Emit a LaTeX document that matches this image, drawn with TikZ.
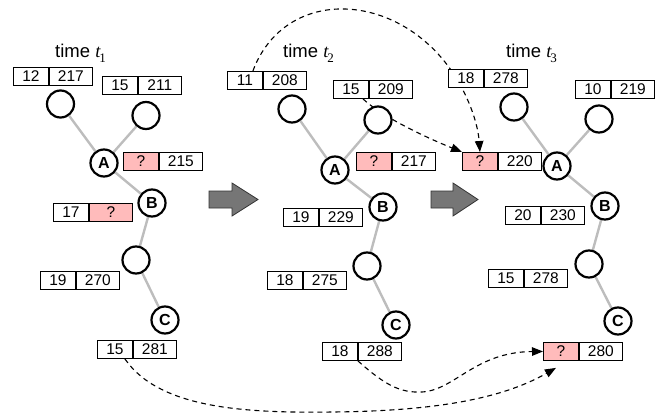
\documentclass[tikz,border=0pt]{standalone}
\usepackage{fontspec}
\setmainfont{Liberation Sans}
\newfontfamily\serifface{Liberation Serif}
\usetikzlibrary{arrows.meta,backgrounds,calc}

\definecolor{qpink}{HTML}{FFBBBB}
\definecolor{linkgray}{HTML}{BDBDBD}
\definecolor{arrowgray}{HTML}{767676}

\tikzset{
  cellbase/.style={draw, line width=0.9pt, minimum height=18pt, inner sep=0pt,
    anchor=north west, fill=white, font=\fontsize{15.5}{16}\selectfont},
  cl/.style={cellbase, minimum width=35pt},
  cr/.style={cellbase, minimum width=43pt},
  pinkcell/.style={fill=qpink},
  vert/.style={circle, draw, line width=2.2pt, minimum size=27pt, inner sep=0pt,
    fill=white, font=\bfseries\fontsize{16}{16}\selectfont},
  link/.style={draw=linkgray, line width=2.4pt},
  trace/.style={dash pattern=on 5pt off 4pt, line width=1.1pt,
    -{Triangle[length=11pt,width=8.5pt]}},
  blockarrow/.style={fill=arrowgray, draw=black!80, line width=0.8pt, line join=miter},
  timelabel/.style={anchor=base west, inner sep=0pt, font=\fontsize{18.5}{20}\selectfont}
}

\newcommand\tlabel[1]{time {\serifface\itshape t}\kern-1pt\raisebox{-5pt}{\serifface\fontsize{13}{13}\selectfont #1}}

\begin{document}
\begin{tikzpicture}[x=1pt,y=-1pt]
\useasboundingbox (0,0) rectangle (662,415);

% ---------- time t1 ----------
\node[timelabel] (time1) at (55,57) {\tlabel{1}};
\node[cl] (p1a-l) at (13,67) {12};
\node[cr] (p1a-r) at (p1a-l.north east) {217};
\node[cl] (p1b-l) at (102,76) {15};
\node[cr] (p1b-r) at (p1b-l.north east) {211};
\node[cl,pinkcell] (p1c-l) at (123,152) {?};
\node[cr] (p1c-r) at (p1c-l.north east) {215};
\node[cl] (p1d-l) at (53,203) {17};
\node[cr,pinkcell] (p1d-r) at (p1d-l.north east) {?};
\node[cl] (p1e-l) at (40,271) {19};
\node[cr] (p1e-r) at (p1e-l.north east) {270};
\node[cl] (p1f-l) at (97,340) {15};
\node[cr] (p1f-r) at (p1f-l.north east) {281};

\node[vert] (c1tl) at (60.5,104) {};
\node[vert] (c1tr) at (146,115.5) {};
\node[vert] (c1A) at (104,163) {A};
\node[vert] (c1B) at (152,203) {B};
\node[vert] (c1m) at (136,260) {};
\node[vert] (c1C) at (165,320) {C};

% ---------- time t2 ----------
\node[timelabel] (time2) at (283,57) {\tlabel{2}};
\node[cl] (p2a-l) at (227,71) {11};
\node[cr] (p2a-r) at (p2a-l.north east) {208};
\node[cl] (p2b-l) at (333,80) {15};
\node[cr] (p2b-r) at (p2b-l.north east) {209};
\node[cl,pinkcell] (p2c-l) at (356,152) {?};
\node[cr] (p2c-r) at (p2c-l.north east) {217};
\node[cl] (p2d-l) at (283,208) {19};
\node[cr] (p2d-r) at (p2d-l.north east) {229};
\node[cl] (p2e-l) at (267,271) {18};
\node[cr] (p2e-r) at (p2e-l.north east) {275};
\node[cl] (p2f-l) at (322,342) {18};
\node[cr] (p2f-r) at (p2f-l.north east) {288};

\node[vert] (c2tl) at (292,109) {};
\node[vert] (c2tr) at (378,120) {};
\node[vert] (c2A) at (335,170) {A};
\node[vert] (c2B) at (383,207) {B};
\node[vert] (c2m) at (367,266) {};
\node[vert] (c2C) at (396,325) {C};

% ---------- time t3 ----------
\node[timelabel] (time3) at (506,57) {\tlabel{3}};
\node[cl] (p3a-l) at (448,69) {18};
\node[cr] (p3a-r) at (p3a-l.north east) {278};
\node[cl] (p3b-l) at (575,80) {10};
\node[cr] (p3b-r) at (p3b-l.north east) {219};
\node[cl,pinkcell] (p3c-l) at (462,152) {?};
\node[cr] (p3c-r) at (p3c-l.north east) {220};
\node[cl] (p3d-l) at (505,206) {20};
\node[cr] (p3d-r) at (p3d-l.north east) {230};
\node[cl] (p3e-l) at (488,269) {15};
\node[cr] (p3e-r) at (p3e-l.north east) {278};
\node[cl,pinkcell] (p3f-l) at (543,342) {?};
\node[cr] (p3f-r) at (p3f-l.north east) {280};

\node[vert] (c3tl) at (514,107) {};
\node[vert] (c3tr) at (599,119) {};
\node[vert] (c3A) at (557,166) {A};
\node[vert] (c3B) at (605,206) {B};
\node[vert] (c3m) at (589,264) {};
\node[vert] (c3C) at (618,321) {C};

% ---------- step arrows between snapshots ----------
\path[blockarrow] (209,191) -- (232,191) -- (232,183) -- (258,199.5)
  -- (232,216) -- (232,208) -- (209,208) -- cycle;
\path[blockarrow] (431,191) -- (453,191) -- (453,183) -- (478,199.5)
  -- (453,216) -- (453,208) -- (431,208) -- cycle;

\begin{scope}[on background layer]
  % tree edges
  \foreach \p in {1,2,3} {
    \draw[link] (c\p tl) -- (c\p A);
    \draw[link] (c\p tr) -- (c\p A);
    \draw[link] (c\p A) -- (c\p B);
    \draw[link] (c\p B) -- (c\p m);
    \draw[link] (c\p m) -- (c\p C);
  }
  % value traces into the unknown entries
  \draw[trace] ($(p2a-l.north east)+(-10,0)$)
    .. controls (285,-15) and (400,-10) .. (455,76)
    .. controls (470,100) and (478,125) .. (p3c-l.north);
  \draw[trace] ($(p2b-l.south west)+(30,0)$)
    .. controls (380,115) and (420,135) .. (p3c-l.north west);
  \draw[trace] (p2f-l.south east)
    .. controls (385,385) and (400,393) .. (422,392)
    .. controls (455,390) and (475,352) .. (p3f-l.west);
  \draw[trace] ($(p1f-l.south east)+(-8,0)$)
    .. controls (160,410) and (250,413) .. (333,412)
    .. controls (430,411) and (500,400) .. ($(p3f-l.south)+(-5,7)$);
\end{scope}
\end{tikzpicture}
\end{document}
